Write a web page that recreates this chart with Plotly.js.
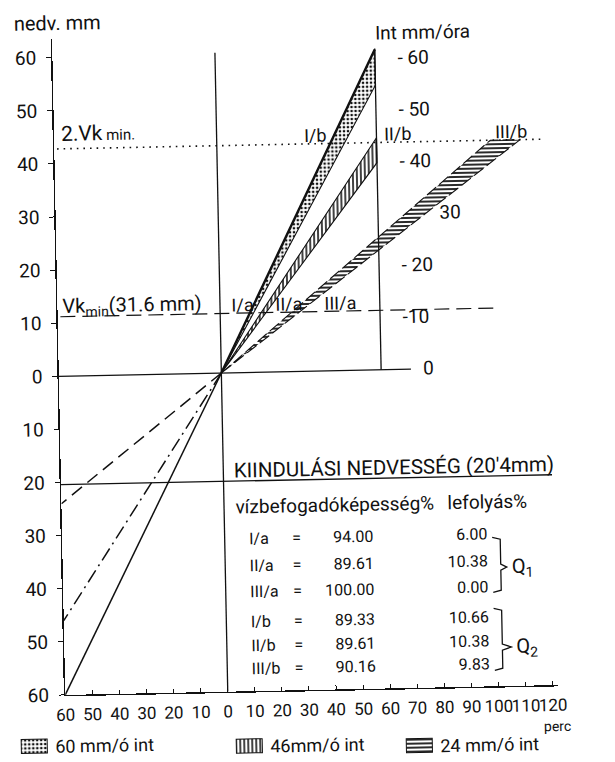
<!DOCTYPE html>
<html><head><meta charset="utf-8">
<script src="https://cdn.plot.ly/plotly-3.0.1.min.js"></script>
<style>
html,body{margin:0;padding:0;background:#fff;}
#chart{width:615px;height:762px;transform:rotate(-1.15deg);transform-origin:307.5px 381px;}
</style></head><body><div id="chart"></div>
<script>
// ---------------- data ----------------
const timeTicks = [-60,-50,-40,-30,-20,-10,0,10,20,30,40,50,60,70,80,90,100,110,120];
const nedvTicks = [-60,-50,-40,-30,-20,-10,0,10,20,30,40,50,60];
const intTicks = [0,10,20,30,40,50,60];
const intTickText = ['\u20030','-10','- 20','\u2003\u200330','- 40','- 50','- 60'];
const intensityNames = ['60 mm/ó int','46mm/ó int','24 mm/ó int'];
const rainTime = [60, 60, 60];          // perc (drawn leftwards)
const rainAmount = [60, 46, 24];        // mm after 60 perc (drawn downwards)
const bandUpperX = [59, 59, 101];
const bandUpperY = [60.3, 43.7, 42.8];
const bandLowerX = [59, 59, 112];
const bandLowerY = [53.6, 39.0, 42.8];
const refLineY = [42.8, 11.2, -20.4];   // 2.Vk min, Vk min, kiindulási nedvesség
const refLineEndX = [121.2, 102, 121.3];
const labelsA = ['I/a','II/a','III/a'];
const labelsB = ['I/b','II/b','III/b'];
const tableRows = ['I/a','II/a','III/a','I/b','II/b','III/b'];
const infiltration = ['94.00','89.61','100.00','89.33','89.61','90.16'];
const runoff = ['6.00','10.38','0.00','10.66','10.38','9.83'];

// ---------------- layout helpers ----------------
const L=59, R=552, T=34, B=690;
const px = v => (v-L)/(R-L);
const py = v => (B-v)/(B-T);
const F = 'Roboto, Liberation Sans, sans-serif';
const INK = '#111';

const lowDash = ['solid','14px,5px,2px,5px','13px,7px'];
const patterns = [
  {shape:'.', size:4, solidity:0.35, fgcolor:INK, bgcolor:'white'},
  {shape:'|', size:4, solidity:0.4, fgcolor:INK, bgcolor:'white'},
  {shape:'-', size:4, solidity:0.45, fgcolor:INK, bgcolor:'white'}
];
const legendIds = ['legend','legend2','legend3'];

const data = [];
for (let i=0;i<3;i++){
  data.push({type:'scatter', mode:'lines', x:[0,-rainTime[i]], y:[0,-rainAmount[i]],
    line:{color:INK, width:1.5, dash:lowDash[i]}, showlegend:false, hoverinfo:'skip'});
}
for (let i=0;i<3;i++){
  data.push({type:'scatter', mode:'lines', name:intensityNames[i], legend:legendIds[i],
    x:[0,bandUpperX[i],bandLowerX[i],0], y:[0,bandUpperY[i],bandLowerY[i],0],
    fill:'toself', fillcolor:'white', fillpattern:patterns[i],
    line:{color:INK, width:1.1, dash: i===2 ? '12px,4px' : 'solid'}, hoverinfo:'skip'});
}
data.push({type:'scatter', mode:'lines', x:[0,bandUpperX[0]], y:[0,bandUpperY[0]],
  line:{color:INK, width:2.4}, showlegend:false, hoverinfo:'skip'});
// invisible trace to carry the Int axis
data.push({type:'scatter', mode:'lines', x:[0,0], y:[0,0], yaxis:'y2', line:{width:0}, showlegend:false, hoverinfo:'skip'});

const shapes = [
  {type:'line', xref:'x', yref:'y', x0:0, x1:0, y0:-60, y1:60.3, line:{color:INK, width:1.3}},
  {type:'line', xref:'x', yref:'y', x0:-60, x1:70, y0:0, y1:0, line:{color:INK, width:1.3}},
  {type:'line', xref:'x', yref:'y', x0:59, x1:59, y0:0, y1:60.5, line:{color:INK, width:1.3}},
  {type:'line', xref:'x', yref:'y', x0:-59, x1:refLineEndX[0], y0:refLineY[0], y1:refLineY[0], line:{color:INK, width:1.6, dash:'1.6px,5px'}},
  {type:'line', xref:'x', yref:'y', x0:-59, x1:refLineEndX[1], y0:refLineY[1], y1:refLineY[1], line:{color:INK, width:1.2, dash:'15px,7px'}},
  {type:'line', xref:'x', yref:'y', x0:-60, x1:refLineEndX[2], y0:refLineY[2], y1:refLineY[2], line:{color:INK, width:1.3}}
];
function brace(top, mid, bot, xl, xv, xp){
  return {type:'path', xref:'paper', yref:'paper', line:{color:INK, width:1.3},
    path:`M${px(xl)},${py(top)} L${px(xv)},${py(top+2)} L${px(xv)},${py(mid-3)} L${px(xp)},${py(mid)} L${px(xv)},${py(mid+3)} L${px(xv)},${py(bot-2)} L${px(xl)},${py(bot)}`};
}
shapes.push(brace(541,571,596,489,497,503));
shapes.push(brace(612,651,674,489,497,506));

const ann = [];
function T_(text, x, y, size, xanchor){
  ann.push({text, x:px(x), y:py(y), xref:'paper', yref:'paper', showarrow:false,
    xanchor:xanchor||'left', yanchor:'middle', font:{family:F, size, color:INK}});
}
T_('nedv. mm', 19, 18, 20);
T_('Int mm/óra', 380, 35, 19);
T_("2.Vk<span style='font-size:15px'> min.</span>", 64, 129, 21);
T_('Vk<sub>min</sub>(31.6 mm)', 62, 302, 20);
const aX=[230.5,274.5,323.5], bX=[307,387,498];
for (let i=0;i<3;i++){ T_(labelsA[i], aX[i], 303, 18); T_(labelsB[i], bX[i], 135, 18); }
T_("KIINDULÁSI NEDVESSÉG (20'4mm)", 230, 469, 20.5);
T_('vízbefogadóképesség%', 231, 505, 19);
T_('lefolyás%', 443, 505, 19);
const rowY=[537,564,590,620,644,667];
for (let i=0;i<6;i++){
  T_(tableRows[i], 244, rowY[i], 16);
  T_('=', 293, rowY[i], 16, 'center');
  T_(infiltration[i], 372, rowY[i], 16, 'right');
  T_(runoff[i], 486, rowY[i], 16, 'right');
}
T_('Q<sub>1</sub>', 506, 571, 20);
T_('Q<sub>2</sub>', 509, 651, 20);
T_('perc', 550, 731, 14, 'center');

const legBase = {orientation:'h', xanchor:'left', yanchor:'middle', bgcolor:'rgba(0,0,0,0)',
  font:{family:F, size:18, color:INK}, itemwidth:30};
const layout = {
  width:615, height:762, margin:{l:L, r:615-R, t:T, b:762-B, autoexpand:false},
  paper_bgcolor:'white', plot_bgcolor:'white',
  font:{family:F, color:INK},
  xaxis:{range:[-60,122], tickvals:timeTicks, ticktext:timeTicks.map(v=>String(Math.abs(v))),
    tickangle:0, ticks:'inside', ticklen:4, tickcolor:INK, showline:true, linecolor:INK, linewidth:1.4,
    showgrid:false, zeroline:false, tickfont:{family:F, size:17, color:INK}, ticklabelstandoff:4},
  yaxis:{range:[-60,63.5], tickvals:nedvTicks, ticktext:nedvTicks.map(v=>String(Math.abs(v))),
    ticks:'outside', ticklen:5, tickcolor:INK, showline:true, linecolor:INK, linewidth:1.4,
    showgrid:false, zeroline:false, tickfont:{family:F, size:19, color:INK}, ticklabelstandoff:6},
  yaxis2:{overlaying:'y', anchor:'free', position:px(403), side:'right', range:[-61.7,64.9],
    tickvals:intTicks, ticktext:intTickText, ticks:'', showline:false, showgrid:false, zeroline:false,
    tickfont:{family:F, size:19, color:INK}},
  shapes, annotations:ann,
  legend: Object.assign({}, legBase, {x:px(8), y:py(741)}),
  legend2: Object.assign({}, legBase, {x:px(223), y:py(745)}),
  legend3: Object.assign({}, legBase, {x:px(393), y:py(748)})
};
Plotly.newPlot('chart', data, layout, {staticPlot:true, displayModeBar:false}).then(gd=>{
  gd.querySelectorAll('.legendfill path').forEach(p=>{
    p.setAttribute('d','M6,-7h26v14h-26z'); p.style.stroke=INK; p.style.strokeWidth='1px'; p.style.strokeDasharray='none';
  });
  gd.querySelectorAll('.legendlines path').forEach(p=>{p.style.display='none';});
  gd.querySelectorAll('text').forEach(t=>{ if(!t.textContent.trim()) t.remove(); });
});
</script></body></html>
